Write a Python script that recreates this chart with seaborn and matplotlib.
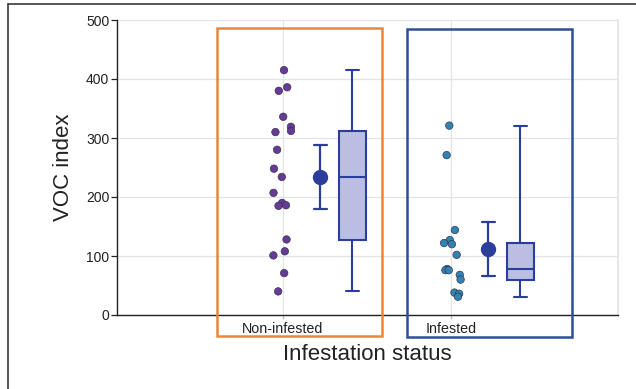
import numpy as np
import pandas as pd
import matplotlib
matplotlib.use("Agg")
import matplotlib.pyplot as plt
from matplotlib.patches import Rectangle
from matplotlib.lines import Line2D
import seaborn as sns

# ---- data ----
groups = ["Non-infested", "Infested"]
non_infested = [415, 386, 380, 336, 319, 312, 310, 280, 248, 234, 207,
                190, 186, 185, 128, 108, 101, 71, 40]
infested = [321, 271, 144, 127, 122, 120, 102, 78, 76, 76, 68, 60, 38, 36, 31]
# five-number box summaries: [min, Q1, median, Q3, max]
box_non = [40, 127, 234, 312, 415]
box_inf = [30.5, 59, 78, 122, 321]

x_label = "Infestation status"
y_label = "VOC index"
y_ticks = [0, 100, 200, 300, 400, 500]

# ---- styling ----
sns.set_theme(style="white")
plt.rcParams["font.family"] = ["Liberation Sans", "DejaVu Sans"]

PURPLE = "#673a98"
TEAL = "#3282b4"
BLUE = "#2c3e9c"
BOXFILL = "#b9bee2"
ORANGE = "#ef8537"
RECTBLUE = "#2f4e98"

fig = plt.figure(figsize=(6.36, 3.89), dpi=100)
ax = fig.add_axes([117/636, 1 - 315/389, 501/636, 295/389])

pts = pd.DataFrame({
    "status": [groups[0]] * len(non_infested) + [groups[1]] * len(infested),
    "voc": non_infested + infested,
})
pts["pos"] = pts["status"].map({g: i for i, g in enumerate(groups)}).astype(float)

np.random.seed(3)
sns.stripplot(data=pts, x="pos", y="voc", hue="status", native_scale=True,
              palette=[PURPLE, TEAL], jitter=0.06, size=5.4, linewidth=0.45,
              edgecolor="#303040", legend=False, ax=ax, zorder=4)

T95 = {18: 2.101, 14: 2.145}


def t_ci(x):
    x = np.asarray(x, float)
    m = x.mean()
    se = x.std(ddof=1) / np.sqrt(len(x))
    h = T95[len(x) - 1] * se
    return m - h, m + h


mean_df = pts.assign(pos=pts["pos"] + 0.222)
sns.pointplot(data=mean_df, x="pos", y="voc", native_scale=True,
              errorbar=t_ci, color=BLUE, capsize=0.08, linestyle="none",
              markersize=9, err_kws={"linewidth": 1.6}, ax=ax, zorder=5)

box_df = pd.DataFrame({
    "pos": [0.413] * len(box_non) + [1.413] * len(box_inf),
    "voc": box_non + box_inf,
})
sns.boxplot(data=box_df, x="pos", y="voc", native_scale=True, width=0.157,
            whis=(0, 100), color=BOXFILL, linecolor=BLUE, linewidth=1.5,
            saturation=1, fliersize=0, ax=ax)

# ---- axes ----
ax.set_xlim(-0.988, 1.994)
ax.set_ylim(0, 500)
ax.set_xticks([0, 1], labels=groups)
ax.set_yticks(y_ticks)
ax.grid(True, color="#e4e4e4", linewidth=0.9)
ax.set_axisbelow(True)
ax.tick_params(axis="y", which="both", left=True, length=4, width=0.9,
               color="#222222", labelsize=10, labelcolor="#222222", pad=1.5)
ax.tick_params(axis="x", which="both", bottom=True, length=3, width=0.9,
               color="#bdbdbd", labelsize=10.3, labelcolor="#222222", pad=2)
for s in ["left", "bottom"]:
    ax.spines[s].set_color("#222222")
    ax.spines[s].set_linewidth(1.0)
ax.spines["top"].set_visible(False)
ax.spines["right"].set_color("#e4e4e4")

ax.set_xlabel(x_label, fontsize=16, color="#222222")
ax.set_ylabel(y_label, fontsize=16, color="#222222")
ax.xaxis.set_label_coords(0.5, -0.098)
ax.yaxis.set_label_coords(-0.086, 0.5)

# ---- highlight rectangles ----
ax.add_patch(Rectangle((-0.395, -35.6), 0.9825, 521.5, fill=False,
                       edgecolor=ORANGE, linewidth=1.8, clip_on=False, zorder=6))
ax.add_patch(Rectangle((0.740, -36.6), 0.978, 521.3, fill=False,
                       edgecolor=RECTBLUE, linewidth=1.8, clip_on=False, zorder=6))

# ---- figure frame lines ----
fig.add_artist(Line2D([8/636, 1], [1 - 4/389, 1 - 4/389], transform=fig.transFigure,
                      color="#3a3a3a", linewidth=1.2))
fig.add_artist(Line2D([8/636, 8/636], [0, 1 - 4/389], transform=fig.transFigure,
                      color="#3a3a3a", linewidth=1.2))

fig.savefig("out.png", dpi=100)
